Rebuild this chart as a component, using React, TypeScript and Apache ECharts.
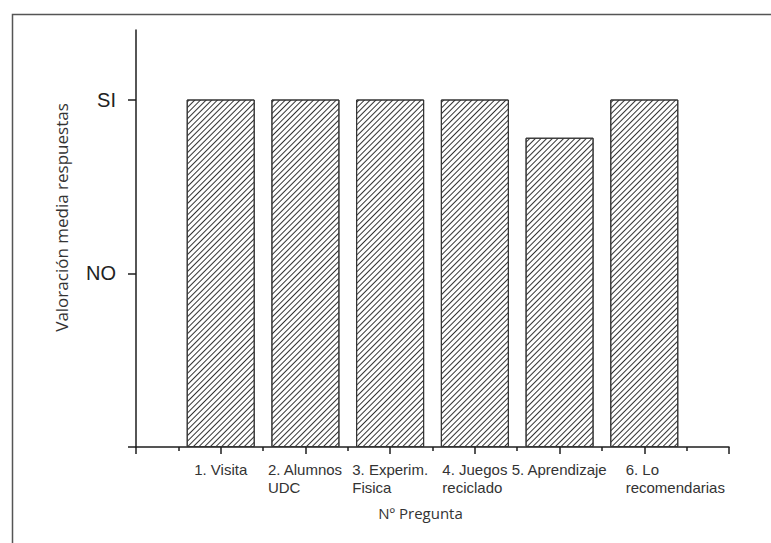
import React, { useEffect, useRef } from "react";
import * as echarts from "echarts";

const questionNumbers = [1, 2, 3, 4, 5, 6];
const questionLabels = [
  "1. Visita",
  "2. Alumnos\nUDC",
  "3. Experim.\nFisica",
  "4. Juegos\nreciclado",
  "5. Aprendizaje",
  "6. Lo\nrecomendarias",
];
const meanValues = [2, 2, 2, 2, 1.78, 2];
const yTickValues = [1, 2];
const yTickLabels = ["NO", "SI"];
const xAxisTitle = "Nº Pregunta";
const yAxisTitle = "Valoración media respuestas";

export default function App() {
  const ref = useRef<HTMLDivElement>(null);
  useEffect(() => {
    if (!ref.current) return;
    const chart = echarts.init(ref.current, undefined, { renderer: "svg" });
    const axisColor = "#1e1e1e";
    const lastIdx = questionNumbers.length - 1;
    const fmt = (style: string) => (v: number) => {
      const i = questionNumbers.indexOf(v);
      if (i < 0) return "";
      return questionLabels[i]
        .split("\n")
        .map((l) => `{${style}|${l}}`)
        .join("\n");
    };
    const labelText = {
      fontFamily: "Liberation Sans",
      fontSize: 15,
      lineHeight: 18,
      color: "#333",
      align: "left",
    };
    chart.setOption({
      animation: false,
      backgroundColor: "#fff",
      graphic: [
        {
          type: "rect",
          left: 10,
          top: 12,
          shape: { width: 800, height: 600 },
          style: { fill: "none", stroke: "#555", lineWidth: 1.5 },
          silent: true,
        },
      ],
      grid: { left: 136, top: 30, width: 593, height: 417, containLabel: false },
      xAxis: [
        {
          type: "value",
          min: 0,
          max: 7,
          interval: 1,
          name: xAxisTitle,
          nameLocation: "middle",
          nameGap: 58,
          nameTextStyle: {
            fontFamily: "Open Sans",
            fontSize: 15,
            color: "#333",
            padding: [0, 24, 0, 0],
          },
          splitLine: { show: false },
          axisLine: { show: true, onZero: false, lineStyle: { color: axisColor, width: 1.5 } },
          axisTick: { show: true, length: 7, inside: false, lineStyle: { color: axisColor, width: 1.5 } },
          minorTick: { show: true, splitNumber: 2, length: 4, lineStyle: { color: axisColor, width: 1.5 } },
          minorSplitLine: { show: false },
          axisLabel: {
            customValues: questionNumbers.slice(0, lastIdx),
            hideOverlap: false,
            margin: 13,
            formatter: fmt("a"),
            rich: { a: labelText },
          },
        },
        {
          type: "value",
          position: "bottom",
          min: 0,
          max: 7,
          interval: 1,
          splitLine: { show: false },
          axisLine: { show: false, onZero: false },
          axisTick: { show: false },
          axisLabel: {
            customValues: [questionNumbers[lastIdx]],
            hideOverlap: false,
            margin: 13,
            formatter: fmt("b"),
            rich: { b: { ...labelText, padding: [0, 0, 0, 62] } },
          },
        },
      ],
      yAxis: {
        type: "value",
        min: 0,
        max: 2.4,
        interval: 1,
        name: yAxisTitle,
        nameLocation: "middle",
        nameGap: 66,
        nameRotate: 90,
        nameTextStyle: {
          fontFamily: "Open Sans",
          fontSize: 17,
          color: "#333",
          padding: [0, 0, 0, 42],
        },
        splitLine: { show: false },
        axisLine: { show: true, lineStyle: { color: axisColor, width: 1.5 } },
        axisTick: {
          show: true,
          length: 8,
          customValues: [0, ...yTickValues],
          lineStyle: { color: axisColor, width: 1.5 },
        },
        axisLabel: {
          customValues: yTickValues,
          margin: 20,
          fontFamily: "Liberation Sans",
          fontSize: 20,
          color: "#222",
          formatter: (v: number) => {
            const i = yTickValues.indexOf(v);
            return i >= 0 ? yTickLabels[i] : "";
          },
        },
      },
      series: [
        {
          type: "bar",
          xAxisIndex: 0,
          barWidth: 68,
          data: questionNumbers.map((q, i) => [q, meanValues[i]]),
          itemStyle: {
            color: "#fff",
            borderColor: "#333",
            borderWidth: 1,
            decal: {
              symbol: "rect",
              symbolSize: 1,
              dashArrayX: [1, 0],
              dashArrayY: [1, 2.5],
              rotation: -Math.PI / 4,
              color: "#333",
              backgroundColor: "#fff",
            },
          },
        },
      ],
    });
    return () => chart.dispose();
  }, []);
  return (
    <div
      ref={ref}
      style={{ position: "absolute", left: 0, top: 0, width: 771, height: 543 }}
    />
  );
}
